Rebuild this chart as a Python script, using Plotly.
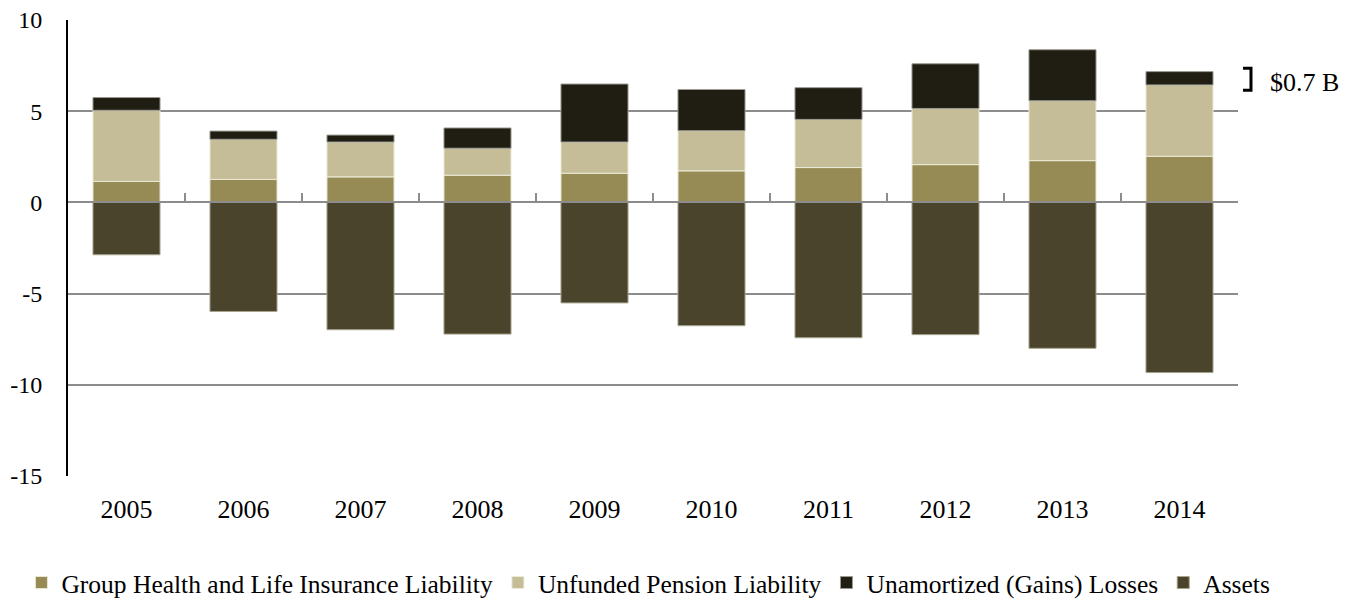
import plotly.graph_objects as go

years = ["2005", "2006", "2007", "2008", "2009", "2010", "2011", "2012", "2013", "2014"]
group_health = [1.15, 1.26, 1.40, 1.49, 1.60, 1.73, 1.91, 2.07, 2.29, 2.53]
unfunded_pension = [3.90, 2.20, 1.91, 1.48, 1.71, 2.20, 2.64, 3.08, 3.28, 3.91]
unamortized = [0.70, 0.45, 0.38, 1.11, 3.18, 2.26, 1.74, 2.45, 2.80, 0.73]
assets = [-2.87, -5.98, -6.98, -7.22, -5.51, -6.76, -7.42, -7.25, -8.00, -9.33]

y_tick_values = [10, 5, 0, -5, -10, -15]
y_tick_labels = ["10", "5", "0", "-5", "-10", "-15"]

series_names = [
    "Group Health and Life Insurance Liability",
    "Unfunded Pension Liability",
    "Unamortized (Gains) Losses",
    "Assets",
]
series_values = [group_health, unfunded_pension, unamortized, assets]
colors = ["#968B55", "#C4BD98", "#201E12", "#4A442C"]
edge_colors = ["#E9E6D2", "#ECEAD8", "#9A9A92", "#A7A38E"]

FONT = "Liberation Serif"

fig = go.Figure()
for name, vals, c, ec in zip(series_names, series_values, colors, edge_colors):
    fig.add_trace(go.Bar(
        x=years, y=vals, name=name,
        marker=dict(color=c, line=dict(color=ec, width=1)),
        xaxis="x", yaxis="y",
    ))

# helper trace for the category axis line drawn at zero
fig.add_trace(go.Scatter(x=[None], y=[None], xaxis="x2", yaxis="y",
                         showlegend=False, hoverinfo="skip"))

# page body has an 8px default margin, so the figure is sized to fit inside
fig.update_layout(
    template="none",
    width=1350, height=594,
    margin=dict(l=60, r=120, t=12, b=126, autoexpand=False),
    paper_bgcolor="white", plot_bgcolor="white",
    barmode="relative", bargap=0.427,
    font=dict(family=FONT, size=24, color="black"),
    showlegend=True,
    legend=dict(orientation="h", x=1.032, xanchor="right",
                y=-0.2346, yanchor="middle",
                font=dict(family=FONT, size=25.5, color="black"),
                itemwidth=30, tracegroupgap=0, traceorder="normal",
                bgcolor="rgba(0,0,0,0)"),
    xaxis=dict(type="category", showgrid=False, showline=False, zeroline=False,
               ticks="", tickfont=dict(family=FONT, size=26, color="black"),
               ticklabelstandoff=15, range=[-0.5, 9.5], automargin=False),
    xaxis2=dict(overlaying="x", anchor="free", position=0.6, side="bottom",
                range=[-0.5, 9.5], showgrid=False, zeroline=False,
                showline=True, linecolor="#8C8C8C", linewidth=2,
                tickmode="array", tickvals=[i - 0.5 for i in range(11)],
                ticks="inside", ticklen=8, tickwidth=2, tickcolor="#8C8C8C",
                showticklabels=False, automargin=False),
    yaxis=dict(range=[-15, 10], tickmode="array", tickvals=y_tick_values,
               ticktext=y_tick_labels, showgrid=True,
               gridcolor="#8C8C8C", gridwidth=1.5, zeroline=False,
               showline=True, linecolor="black", linewidth=2,
               ticks="", tickfont=dict(family=FONT, size=24, color="black"),
               ticklabelstandoff=19, ticklabeloverflow="allow", automargin=False),
)

# bracket marking the 2014 unamortized losses
fig.add_shape(type="path", xref="paper", yref="y",
              path="M 1.0043 7.35 L 1.0111 7.35 L 1.0111 6.15 L 1.0043 6.15",
              line=dict(color="black", width=3))
fig.add_annotation(xref="paper", yref="y", x=1.026, y=6.55, xanchor="left",
                   yanchor="middle", text="$0.7 B", showarrow=False,
                   font=dict(family=FONT, size=26, color="black"))

fig.write_html("out.html")
